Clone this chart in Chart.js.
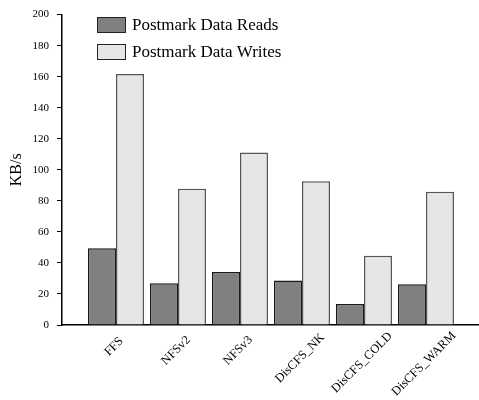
<!DOCTYPE html>
<html>
<head>
<meta charset="utf-8">
<script src="https://cdn.jsdelivr.net/npm/chart.js@4"></script>
<style>
  body { margin: 0; background: #fff; }
</style>
</head>
<body>
<canvas id="postmarkChart" width="479" height="400"></canvas>
<script>
// data
const categories = ['FFS', 'NFSv2', 'NFSv3', 'DisCFS_NK', 'DisCFS_COLD', 'DisCFS_WARM'];
const readsKB = [49.5, 26.9, 34.1, 28.6, 13.5, 26.2];
const writesKB = [161.7, 87.8, 111.1, 92.7, 44.7, 85.9];
const seriesNames = ['Postmark Data Reads', 'Postmark Data Writes'];
const yTicks = [0, 20, 40, 60, 80, 100, 120, 140, 160, 180, 200];

const serif = "'Liberation Serif', 'Times New Roman', serif";

// legend drawn inside the plot, top left
const boxLegend = {
  id: 'boxLegend',
  afterDraw(chart) {
    const ctx = chart.ctx;
    ctx.save();
    ctx.font = '17px ' + serif;
    ctx.textBaseline = 'middle';
    ctx.textAlign = 'left';
    chart.data.datasets.forEach((ds, i) => {
      const y = 17 + i * 27;
      ctx.fillStyle = ds.backgroundColor;
      ctx.fillRect(97, y, 29, 16);
      ctx.strokeStyle = '#222';
      ctx.lineWidth = 1;
      ctx.strokeRect(97.5, y + 0.5, 28, 15);
      ctx.fillStyle = '#000';
      ctx.fillText(ds.label, 132, y + 8.5);
    });
    ctx.restore();
  }
};

// rotated category labels, centred on each group
const slantLabels = {
  id: 'slantLabels',
  afterDraw(chart) {
    const ctx = chart.ctx;
    const xs = chart.scales.x;
    ctx.save();
    ctx.font = '12.5px ' + serif;
    ctx.fillStyle = '#000';
    ctx.textAlign = 'center';
    ctx.textBaseline = 'middle';
    categories.forEach((name, i) => {
      const w = ctx.measureText(name).width;
      const cx = xs.getPixelForValue(i) - 2;
      const cy = chart.chartArea.bottom + 16 + 0.27 * w;
      ctx.save();
      ctx.translate(cx, cy);
      ctx.rotate(-Math.PI / 4);
      ctx.fillText(name, 0, 0);
      ctx.restore();
    });
    ctx.restore();
  }
};

new Chart(document.getElementById('postmarkChart'), {
  type: 'bar',
  data: {
    datasets: [{
      label: seriesNames[0],
      data: readsKB.map((v, i) => ({ x: i, y: v })),
      backgroundColor: '#808080',
      borderColor: '#1a1a1a',
      borderWidth: 1.5
    }, {
      label: seriesNames[1],
      data: writesKB.map((v, i) => ({ x: i, y: v })),
      backgroundColor: '#e6e6e6',
      borderColor: '#555',
      borderWidth: 1.5
    }]
  },
  options: {
    responsive: false,
    animation: false,
    categoryPercentage: 0.903,
    barPercentage: 1.0,
    layout: { padding: { top: 10, right: 1, left: 0, bottom: 0 } },
    plugins: {
      legend: { display: false },
      tooltip: { enabled: false }
    },
    scales: {
      x: {
        type: 'linear',
        min: -0.871,
        max: 5.839,
        offset: false,
        grid: { display: false, offset: false },
        border: { display: true, color: '#000', width: 1.5 },
        ticks: { display: false },
        afterFit(scale) { scale.height = 75; }
      },
      y: {
        min: 0,
        max: 200,
        afterFit(scale) { scale.width = 62; },
        ticks: {
          stepSize: 10,
          padding: 8,
          color: '#000',
          font: { family: serif, size: 11 },
          callback: (v) => yTicks.includes(v) ? v : ''
        },
        grid: { drawOnChartArea: false, drawTicks: true, tickLength: 5, color: '#000', lineWidth: 1 },
        border: { display: true, color: '#000', width: 1.5 },
        title: {
          display: true,
          text: 'KB/s',
          color: '#000',
          font: { family: serif, size: 16 },
          padding: { top: 7, bottom: 0 }
        }
      }
    }
  },
  plugins: [boxLegend, slantLabels]
});
</script>
</body>
</html>
